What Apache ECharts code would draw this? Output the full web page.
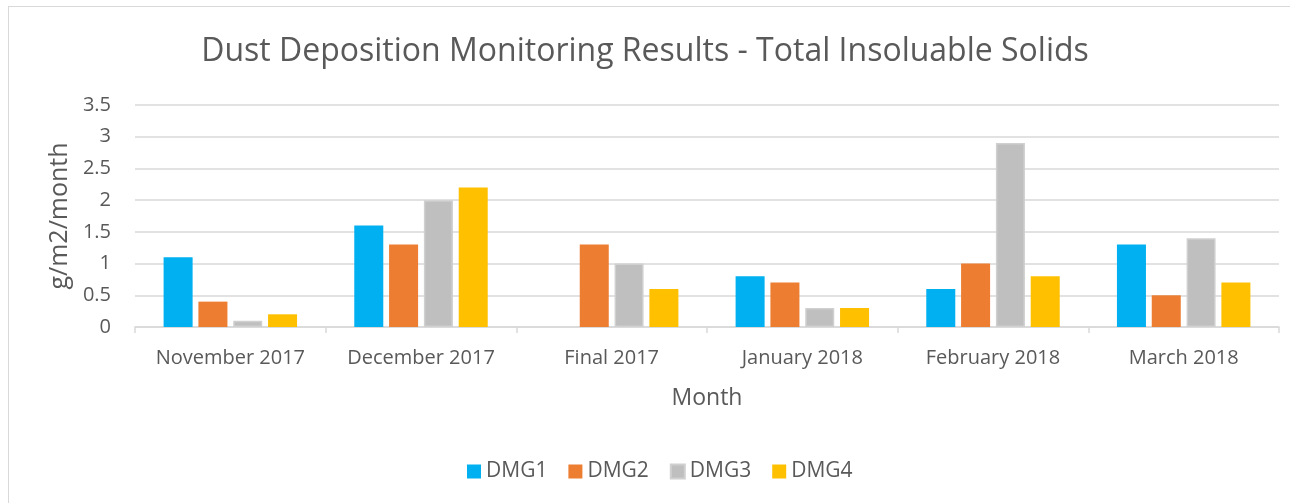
<!DOCTYPE html>
<html>
<head>
<meta charset="utf-8">
<script src="https://cdn.jsdelivr.net/npm/echarts@6/dist/echarts.min.js"></script>
<style>
  html, body { margin: 0; padding: 0; background: #fff; }
  #frame { position: absolute; left: 8px; top: 6px; width: 1290px; height: 520px; border: 1px solid #d9d9d9; box-sizing: border-box; }
  #chart { width: 1290px; height: 503px; }
</style>
</head>
<body>
<div id="frame"></div>
<div id="chart"></div>
<script>
const months = ['November 2017', 'December 2017', 'Final 2017', 'January 2018', 'February 2018', 'March 2018']
const dmg1 = [1.1, 1.6, null, 0.8, 0.6, 1.3]
const dmg2 = [0.4, 1.3, 1.3, 0.7, 1.0, 0.5]
const dmg3 = [0.1, 2.0, 1.0, 0.3, 2.9, 1.4]
const dmg4 = [0.2, 2.2, 0.6, 0.3, 0.8, 0.7]
const yTicks = [0, 0.5, 1, 1.5, 2, 2.5, 3, 3.5]

const font = '"Open Sans", sans-serif'
const textColor = '#595959'

const myChart = echarts.init(document.getElementById('chart'))

function bar(name, data, color, border) {
    return {
        name,
        type: 'bar',
        data,
        barGap: '20%',
        barCategoryGap: '30%',
        itemStyle: {
            color,
            borderColor: border || color,
            borderWidth: border ? 1.5 : 0
        }
    }
}

const option = {
    animation: false,
    title: {
        text: 'Dust Deposition Monitoring Results - Total Insoluable Solids',
        left: 'center',
        top: 31,
        textStyle: { fontFamily: font, fontSize: 32, fontWeight: 'normal', color: textColor }
    },
    grid: { left: 135, right: 11, top: 105, bottom: 176 },
    legend: {
        top: 456,
        left: 462,
        itemWidth: 14,
        itemHeight: 14,
        itemGap: 21,
        icon: 'rect',
        textStyle: { fontFamily: font, fontSize: 21, color: textColor },
        data: ['DMG1', 'DMG2', 'DMG3', 'DMG4']
    },
    xAxis: {
        type: 'category',
        data: months,
        name: 'Month',
        nameLocation: 'middle',
        nameGap: 60,
        nameTextStyle: { fontFamily: font, fontSize: 23, color: textColor },
        axisLine: { lineStyle: { color: '#d9d9d9', width: 1.5 } },
        axisTick: { show: true, length: 6, lineStyle: { color: '#d9d9d9', width: 1.5 } },
        axisLabel: { interval: 0, fontFamily: font, fontSize: 20, color: textColor, margin: 21 }
    },
    yAxis: {
        type: 'value',
        min: yTicks[0],
        max: yTicks[yTicks.length - 1],
        interval: 0.5,
        name: 'g/m2/month',
        nameLocation: 'middle',
        nameGap: 63,
        nameTextStyle: { fontFamily: font, fontSize: 25, color: textColor },
        axisLine: { show: false },
        axisTick: { show: false },
        axisLabel: { fontFamily: font, fontSize: 20, color: textColor, margin: 24 },
        splitLine: { lineStyle: { color: '#d9d9d9', width: 1.5 } }
    },
    series: [
        bar('DMG1', dmg1, '#00b0f0'),
        bar('DMG2', dmg2, '#ed7d31'),
        bar('DMG3', dmg3, '#bfbfbf', '#d0d0d0'),
        bar('DMG4', dmg4, '#ffc000')
    ]
}

myChart.setOption(option)
</script>
</body>
</html>
